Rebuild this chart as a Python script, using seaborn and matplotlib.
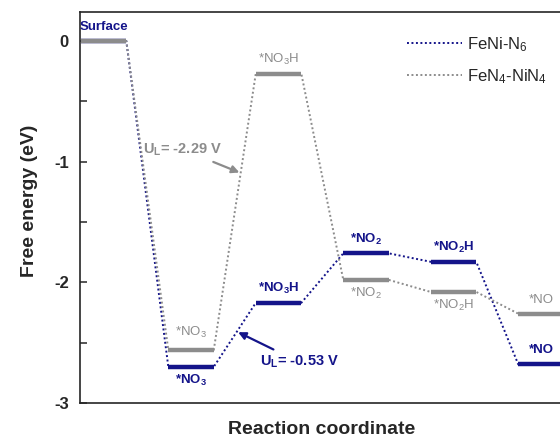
import numpy as np
import pandas as pd
import seaborn as sns
import matplotlib.pyplot as plt
from matplotlib.ticker import MultipleLocator

# Datos del perfil de energia libre
steps = ["Surface", "*NO$_3$", "*NO$_3$H", "*NO$_2$", "*NO$_2$H", "*NO"]
e_feni = [0.0, -2.70, -2.17, -1.76, -1.83, -2.68]
e_fen4 = [0.0, -2.56, -0.27, -1.98, -2.08, -2.26]
series = ["FeNi-N$_6$", "FeN$_4$-NiN$_4$"]
ul_text = ["U$_L$= -0.53 V", "U$_L$= -2.29 V"]
yticks = [-3, -2, -1, 0]

# posicion de etiquetas: +1 arriba, -1 abajo
pos_feni = [1, -1, 1, 1, 1, 1]
pos_fen4 = [1, 1, 1, -1, -1, 1]

navy = "#14148a"
grey = "#8c8c8c"
w = 0.26  # media anchura de cada nivel

sns.set_style("ticks")
plt.rcParams["font.family"] = ["Liberation Sans", "DejaVu Sans"]
plt.rcParams["mathtext.default"] = "regular"

fig = plt.figure(figsize=(5.6, 4.41), dpi=100)
ax = fig.add_axes([0.1429, 0.0862, 0.9018, 0.8866])


def profile(energies, name):
    rows = []
    for i, e in enumerate(energies):
        rows.append({"x": i - w, "G": e, "serie": name})
        rows.append({"x": i + w, "G": e, "serie": name})
    return pd.DataFrame(rows)


d_feni = profile(e_feni, series[0])
d_fen4 = profile(e_fen4, series[1])

# lineas punteadas entre niveles
sns.lineplot(data=d_feni, x="x", y="G", sort=False, estimator=None, color=navy,
             linestyle=(0, (1, 1.3)), lw=1.4, label=series[0], ax=ax, zorder=2)
sns.lineplot(data=d_fen4, x="x", y="G", sort=False, estimator=None, color=grey,
             linestyle=(0, (1, 1.3)), lw=1.4, label=series[1], ax=ax, zorder=2)

# niveles
idx = np.arange(len(steps))
ax.hlines(e_feni, idx - w, idx + w, color=navy, lw=3.2, zorder=3)
ax.hlines(e_fen4, idx - w, idx + w, color=grey, lw=3.2, zorder=4)

# etiquetas de cada nivel
off = 0.115
for i in range(1, len(steps)):
    ax.text(i, e_feni[i] + pos_feni[i] * off, steps[i], color=navy, fontsize=9.5,
            fontweight="bold", ha="center", va="center")
    ax.text(i, e_fen4[i] + pos_fen4[i] * (off + (0.03 if i == 1 else 0)), steps[i],
            color=grey, fontsize=9.5, ha="center", va="center")
ax.text(0, e_feni[0] + off, steps[0], color=navy, fontsize=9.5, fontweight="bold",
        ha="center", va="center")

# flechas de potencial limite (paso *NO3 -> *NO3H)
for e, col, t, txt, dxy in [(e_feni, navy, 0.55, ul_text[0], (45, -22)),
                            (e_fen4, grey, 0.64, ul_text[1], (-42, 17))]:
    x0, y0 = 1 + w, e[1]
    x1, y1 = 2 - w, e[2]
    target = (x0 + t * (x1 - x0), y0 + t * (y1 - y0))
    ax.annotate(txt, xy=target, xytext=dxy, textcoords="offset points",
                color=col, fontsize=10.5, fontweight="bold", ha="center", va="center",
                arrowprops=dict(arrowstyle="-|>", color=col, lw=1.6,
                                mutation_scale=11, shrinkA=2, shrinkB=1))

ax.set_xlim(-0.269, 5.503)
ax.set_ylim(-3, 0.24)
ax.set_xticks([])
ax.set_yticks(yticks)
ax.set_yticklabels([str(v) for v in yticks], fontweight="bold")
ax.yaxis.set_minor_locator(MultipleLocator(0.5))
ax.tick_params(axis="y", which="both", direction="in", width=1.1)
ax.tick_params(axis="y", which="major", length=5, labelsize=12, pad=8)
ax.tick_params(axis="y", which="minor", length=5)
for s in ax.spines.values():
    s.set_linewidth(1.2)

ax.set_xlabel("Reaction coordinate", fontsize=14, fontweight="bold")
ax.set_ylabel("Free energy (eV)", fontsize=14, fontweight="bold")
ax.xaxis.set_label_coords(0.479, -0.046)
ax.yaxis.set_label_coords(-0.083, 0.517)

ax.legend(loc="upper left", bbox_to_anchor=(0.70, 0.955), bbox_transform=fig.transFigure,
          frameon=False, fontsize=12, handlelength=3.3, handletextpad=0.3,
          labelspacing=0.8)

fig.savefig("out.png", dpi=100)
